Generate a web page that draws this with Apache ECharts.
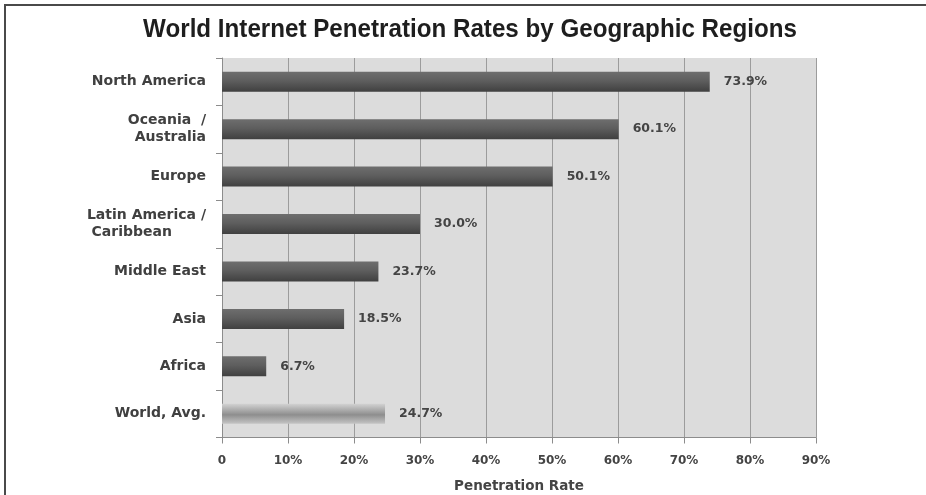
<!DOCTYPE html>
<html>
<head>
<meta charset="utf-8">
<script src="https://cdn.jsdelivr.net/npm/echarts@6/dist/echarts.min.js"></script>
<style>
html,body{margin:0;padding:0;background:#fff;}
#chart{width:926px;height:495px;}
</style>
</head>
<body>
<div id="chart"></div>
<script>
const titleText = 'World Internet Penetration Rates by Geographic Regions';
const categories = ['North America', 'Oceania  /\nAustralia', 'Europe', 'Latin America /\n Caribbean       ', 'Middle East', 'Asia', 'Africa', 'World, Avg.'];
const values = [73.9, 60.1, 50.1, 30.0, 23.7, 18.5, 6.7, 24.7];
const highlightCategory = 'World, Avg.';
const xTicks = [0, 10, 20, 30, 40, 50, 60, 70, 80, 90];
const xAxisName = 'Penetration Rate';

const darkBar = new echarts.graphic.LinearGradient(0, 0, 0, 1, [
  {offset: 0, color: '#6e6e6e'},
  {offset: 0.45, color: '#5e5e5e'},
  {offset: 1, color: '#404040'}
]);
const lightBar = new echarts.graphic.LinearGradient(0, 0, 0, 1, [
  {offset: 0, color: '#d2d2d2'},
  {offset: 0.55, color: '#8e8e8e'},
  {offset: 1, color: '#c4c4c4'}
]);

const chart = echarts.init(document.getElementById('chart'), null, {renderer: 'canvas'});
chart.setOption({
  backgroundColor: '#ffffff',
  animation: false,
  graphic: [{
    type: 'rect',
    shape: {x: 5, y: 5, width: 960, height: 520},
    style: {fill: 'none', stroke: '#4a4a4a', lineWidth: 2},
    z: 100
  }, {
    type: 'text',
    x: 470, y: 30,
    scaleX: 0.93,
    style: {
      x: 0, y: 0,
      text: titleText,
      fill: '#1e1e1e',
      font: 'bold 26px "Liberation Sans", Arial, sans-serif',
      textAlign: 'center',
      textVerticalAlign: 'middle'
    },
    z: 100
  }],
  grid: {
    left: 222, right: 110, top: 58, bottom: 57.5,
    containLabel: false,
    outerBoundsMode: 'none',
    show: true, backgroundColor: '#dcdcdc', borderWidth: 0
  },
  xAxis: {
    type: 'value',
    min: xTicks[0], max: xTicks[xTicks.length - 1], interval: 10,
    name: xAxisName,
    nameLocation: 'middle',
    nameGap: 42,
    nameTextStyle: {fontFamily: 'DejaVu Sans', fontWeight: 'bold', fontSize: 13.5, color: '#444'},
    axisLine: {show: true, lineStyle: {color: '#8c8c8c', width: 1}},
    axisTick: {show: true, length: 6, lineStyle: {color: '#8c8c8c'}},
    splitLine: {show: true, lineStyle: {color: '#9c9c9c', width: 1}},
    axisLabel: {
      margin: 17,
      fontFamily: 'DejaVu Sans', fontWeight: 'bold', fontSize: 12, color: '#444',
      formatter: v => v === 0 ? '0' : v + '%'
    }
  },
  yAxis: {
    type: 'category',
    data: categories,
    inverse: true,
    axisLine: {show: true, lineStyle: {color: '#8c8c8c', width: 1}},
    axisTick: {show: true, length: 6, lineStyle: {color: '#8c8c8c'}},
    splitLine: {show: false},
    axisLabel: {
      margin: 16,
      fontFamily: 'DejaVu Sans', fontWeight: 'bold', fontSize: 14, color: '#404040',
      lineHeight: 17, align: 'right'
    }
  },
  series: [{
    type: 'bar',
    barWidth: 20,
    data: values.map((v, i) => ({
      value: v,
      itemStyle: {color: categories[i] === highlightCategory ? lightBar : darkBar}
    })),
    label: {
      show: true,
      position: 'right',
      distance: 14,
      fontFamily: 'DejaVu Sans', fontWeight: 'bold', fontSize: 12.5, color: '#444',
      formatter: p => p.value.toFixed(1) + '%'
    }
  }]
});
</script>
</body>
</html>
